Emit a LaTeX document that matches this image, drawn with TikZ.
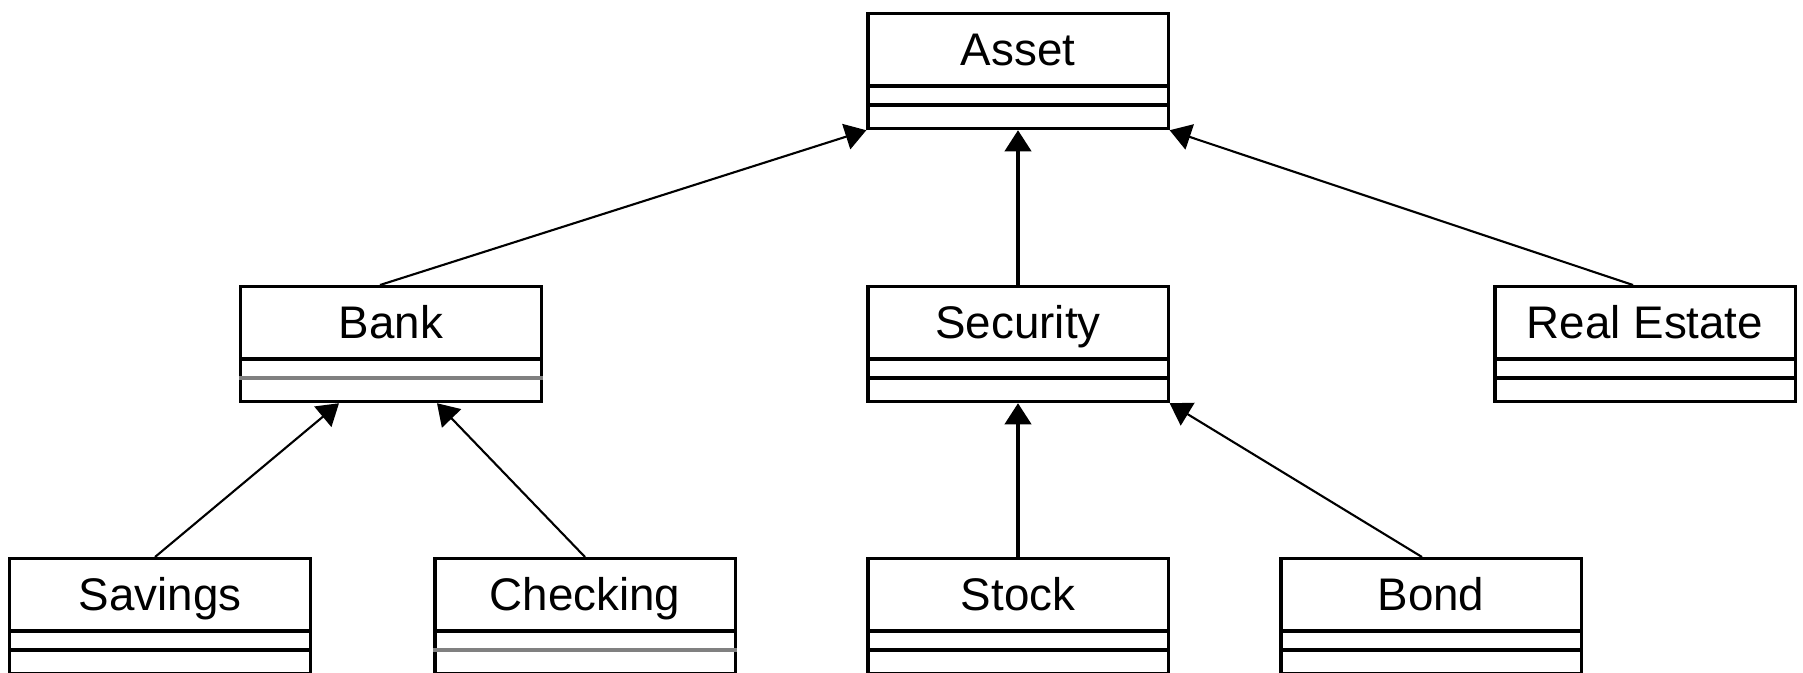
\documentclass[tikz,border=0pt]{standalone}
\usepackage{fontspec}
\setmainfont{Liberation Sans}
\usetikzlibrary{arrows.meta,calc}

\tikzset{
  classbox/.style={draw, line width=0.9pt, minimum width=3cm, minimum height=1.15cm, inner sep=0pt},
  classname/.style={anchor=base, inner sep=0pt, font=\fontsize{13}{15}\selectfont},
  divider/.style={line width=0.9pt},
  inherit/.style={line width=0.6pt, -{Triangle[length=6pt,width=7.5pt]}}
}

% name, centre x, top y, text
\newcommand{\umlclass}[5][]{%
  \node[classbox, anchor=north] (#2) at (#3,#4) {};
  \node[classname] (#2-name) at ($(#2.north)+(0,53)$) {#5};
  \draw[divider] ($(#2.north west)+(0,74)$) -- ($(#2.north east)+(0,74)$);
  \draw[divider,#1] ($(#2.north west)+(0,93)$) -- ($(#2.north east)+(0,93)$);
}

\begin{document}
\begin{tikzpicture}[x=0.01cm, y=-0.01cm]
    \useasboundingbox (0,0) rectangle (1803,672);

    \umlclass{asset}{1018}{12}{Asset}
    \umlclass[gray, line width=1pt]{bank}{391}{285}{Bank}
    \umlclass{security}{1018}{285}{Security}
    \umlclass{realestate}{1645}{285}{Real Estate}
    \umlclass{savings}{160}{557}{Savings}
    \umlclass[gray, line width=1pt]{checking}{585}{557}{Checking}
    \umlclass{stock}{1018}{557}{Stock}
    \umlclass{bond}{1431}{557}{Bond}

    \draw[inherit] ($(bank.north)+(-11,0)$) -- (asset.south west);
    \draw[inherit, line width=0.9pt] (security.north) -- (asset.south);
    \draw[inherit] ($(realestate.north)+(-12,0)$) -- (asset.south east);
    \draw[inherit] ($(savings.north)+(-5,0)$) -- ($(bank.south)+(-52,0)$);
    \draw[inherit] (checking.north) -- ($(bank.south)+(46,0)$);
    \draw[inherit, line width=0.9pt] (stock.north) -- (security.south);
    \draw[inherit] ($(bond.north)+(-9,0)$) -- (security.south east);
\end{tikzpicture}
\end{document}
